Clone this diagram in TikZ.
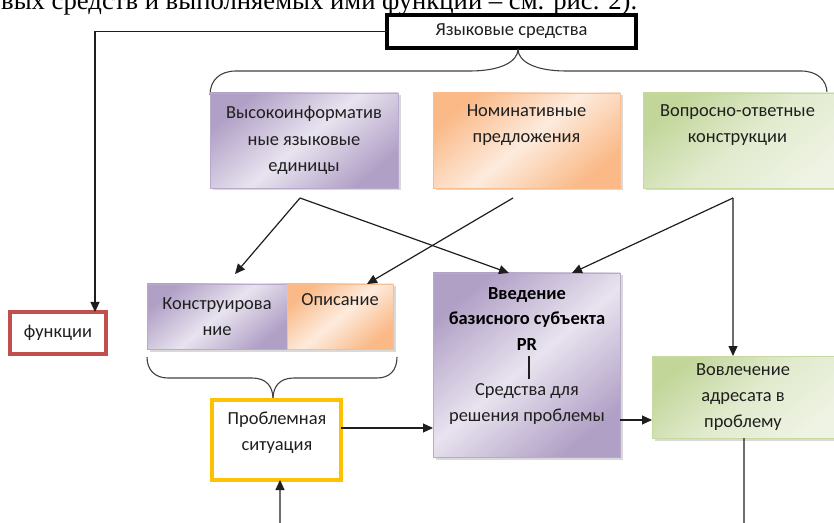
\documentclass[tikz,border=0pt]{standalone}
\usepackage{fontspec}
\setmainfont{Carlito}
\newfontfamily\serifru{Liberation Serif}
\usetikzlibrary{arrows.meta,shadows,calc}
\definecolor{purpD}{HTML}{B1A0C6}
\definecolor{purpL}{HTML}{E8E3EF}
\definecolor{purpB}{HTML}{B9AACD}
\definecolor{orD}{HTML}{FAB987}
\definecolor{orL}{HTML}{FDEBDD}
\definecolor{orB}{HTML}{F9BE90}
\definecolor{grD}{HTML}{C2D69A}
\definecolor{grL}{HTML}{EEF3E3}
\definecolor{grB}{HTML}{C6D9A0}
\definecolor{redB}{HTML}{C0504D}
\definecolor{yelB}{HTML}{FFC000}
\definecolor{lineC}{HTML}{1E1E1E}
\tikzset{
  base/.style={rectangle, inner sep=0pt, outer sep=0pt, align=center,
    font=\fontsize{18.5}{26.5}\selectfont, text=black!88},
  shadowed/.style={drop shadow={shadow xshift=2.5bp, shadow yshift=-2.5bp, opacity=0.3, fill=black!50}},
  purpbox/.style={base, shadowed, draw=purpB, line width=0.8bp,
    left color=purpD, right color=purpD, middle color=purpL, shading angle=40},
  orbox/.style={base, shadowed, draw=orB, line width=0.8bp,
    left color=orD, right color=orD, middle color=orL, shading angle=40},
  grbox/.style={base, shadowed, draw=grB, line width=0.8bp,
    left color=grD, right color=grL, middle color=grL!70!grD, shading angle=40},
  framebox/.style={base, fill=white, line width=4bp},
  txt/.style={inner sep=0pt, outer sep=0pt, align=center,
    font=\fontsize{18.5}{26.5}\selectfont, text=black!88},
  conn/.style={draw=lineC, line width=1.2bp},
  arr/.style={conn, -{Triangle[length=10bp,width=9bp]}},
  brace/.style={draw=black!75, line width=1.1bp}
}
\begin{document}
\begin{tikzpicture}[x=1bp,y=-1bp]
\useasboundingbox (0,0) rectangle (834,523);
\clip (0,0) rectangle (834,523);

% cut-off text line at top
\node[anchor=base west, inner sep=0pt] (toptext) at (1,10)
  {\resizebox{636bp}{!}{\serifru вых средств и выполняемых ими функции – см. рис. 2).}};

% top box
\node[framebox, draw=black, line width=3.5bp, minimum width=249bp, minimum height=33bp] (lang) at (511.5,31.5) {Языковые средства};

% braces
\draw[brace] (210,95) .. controls (210,80) and (220,71) .. (236,71) -- (470,71)
  .. controls (500,71) and (518,62) .. (518,49);
\draw[brace] (518,49) .. controls (518,62) and (536,71) .. (566,71) -- (801,71)
  .. controls (817,71) and (827,80) .. (827,93);

% first row
\node[purpbox, minimum width=188bp, minimum height=95bp] (b1) at (304,140.5)
  {Высокоинформатив\\ные языковые\\единицы};
\node[orbox, minimum width=187bp, minimum height=95bp] (b2) at (526.5,140.5)
  {Номинативные\\предложения\\\strut};
\node[grbox, minimum width=197bp, minimum height=95bp] (b3) at (741.5,140.5)
  {\hspace*{-8bp}Вопросно-ответные\\\hspace*{-8bp}конструкции\\\strut};

% functions
\node[framebox, draw=redB, minimum width=96bp, minimum height=42bp] (func) at (58,333) {функции};

% second row
\node[purpbox, minimum width=140bp, minimum height=65bp] (kons) at (217,316.5)
  {Конструирова\\ние};
\node[orbox, minimum width=106bp, minimum height=65bp] (opis) at (340,316.5)
  {Описание\\\strut};

\draw[brace] (147,357) .. controls (147,370) and (155,378) .. (168,378) -- (252,378)
  .. controls (266,378) and (273,386) .. (273,399);
\draw[brace] (273,399) .. controls (273,386) and (280,378) .. (294,378) -- (377,378)
  .. controls (390,378) and (397,370) .. (397,357);

% problem situation
\node[framebox, draw=yelB, minimum width=129bp, minimum height=80bp] (prob) at (276.5,440) {};
\node[txt] (probtxt) at (277,432.5) {Проблемная\\ситуация};

% introduction box
\node[purpbox, minimum width=187bp, minimum height=184bp] (vved) at (526.5,365) {};
\node[txt, font=\bfseries\fontsize{18.5}{26}\selectfont, text=black] (vtitle) at (527,319)
  {Введение\\базисного субъекта\\PR};
\node[txt] (vsub) at (527,404) {Средства для\\решения проблемы};
\draw[conn] ([xshift=2bp,yshift=-5bp]vtitle.south) -- ([xshift=2bp,yshift=4bp]vsub.north);

% involvement box
\node[grbox, minimum width=188bp, minimum height=82bp] (vovl) at (746,397)
  {\hspace*{-6bp}Вовлечение\\\hspace*{-6bp}адресата в\\\hspace*{-6bp}проблему};

% connectors
\draw[arr] (lang.west) -| ([xshift=-11bp]func.north east);

\coordinate (o1) at ([xshift=-4bp,yshift=-10bp]b1.south);
\coordinate (o2) at ([xshift=-13.5bp,yshift=-10bp]b2.south);
\coordinate (o3) at ([xshift=-8.5bp,yshift=-10bp]b3.south);
\draw[arr] (o1) -- ([xshift=18bp,yshift=10bp]kons.north);
\draw[arr] (o1) -- ([xshift=-17.5bp]vved.north);
\draw[arr] (o2) -- ([xshift=27bp]opis.north);
\draw[arr] (o3) -- ([xshift=45.5bp]vved.north);
\draw[arr] (o3) -- ([xshift=-13bp]vovl.north);

\draw[arr] ([yshift=12bp]prob.east) -- ([yshift=12bp]prob.east -| vved.west);
\draw[arr] ([yshift=-55bp]vved.east) -- ([yshift=-55bp]vved.east -| vovl.west);

\coordinate (pin) at (280,530);
\draw[arr] (pin) -- ([xshift=3.5bp]prob.south);
\coordinate (vout) at (744,530);
\draw[conn] ([xshift=-2bp]vovl.south) -- (vout);
\end{tikzpicture}
\end{document}
